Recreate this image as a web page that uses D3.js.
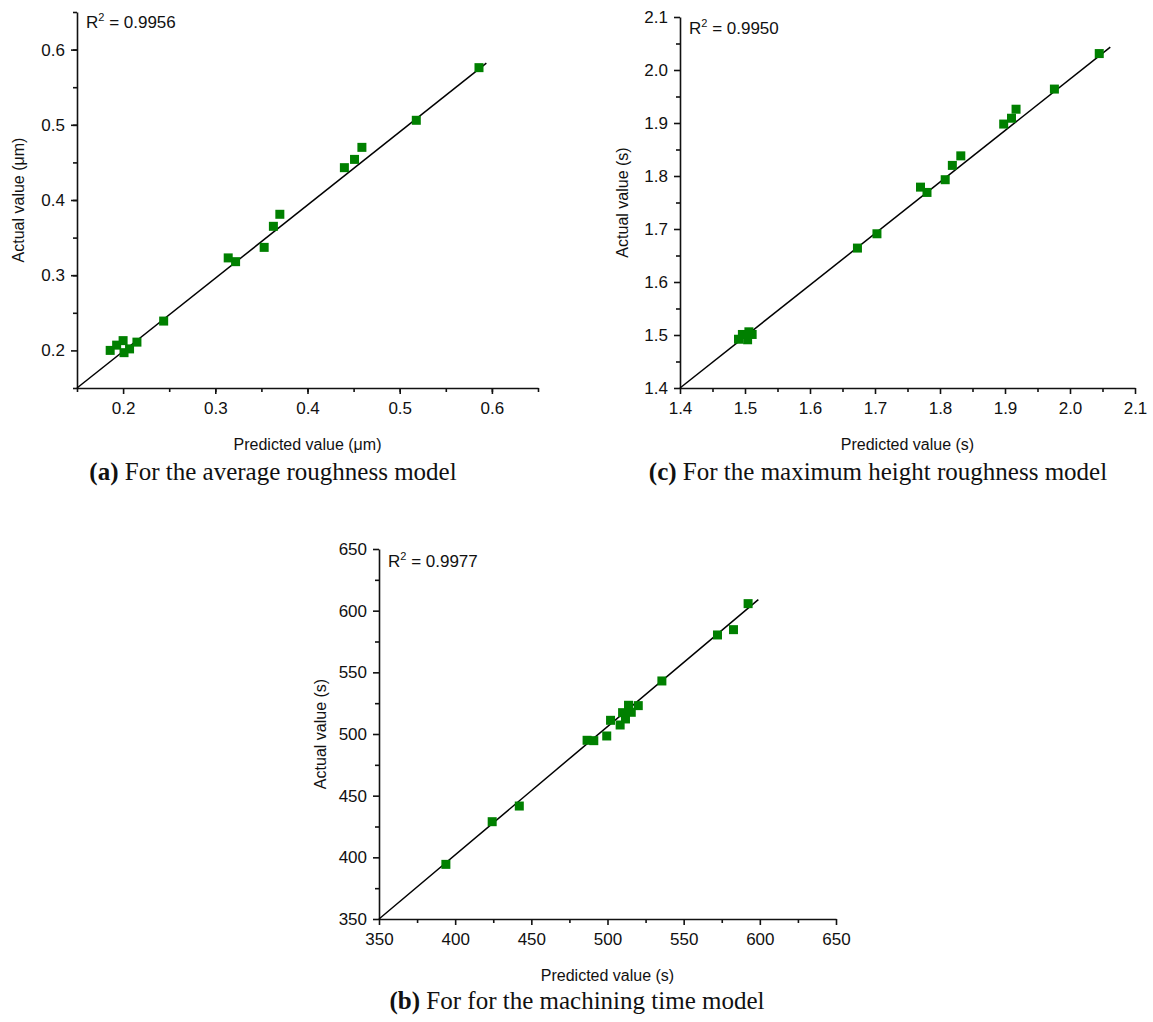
<!DOCTYPE html>
<html>
<head>
<meta charset="utf-8">
<script src="https://cdn.jsdelivr.net/npm/d3@7"></script>
<style>
  body { margin: 0; background: #fff; }
  .tick text { font-family: "Liberation Sans", Arial, sans-serif; font-size: 17px; fill: #111; }
  .axisText { font-family: "Liberation Sans", Arial, sans-serif; font-size: 16px; fill: #111; }
  .caption { font-family: "Liberation Serif", "Times New Roman", serif; font-size: 25px; fill: #111; }
</style>
</head>
<body>
<div id="chart"></div>
<script>
var svgWidth = 1153;
var svgHeight = 1022;

// (a) average roughness
var aPredicted = [0.586, 0.518, 0.459, 0.451, 0.440, 0.370, 0.363, 0.353, 0.314, 0.322, 0.244, 0.186, 0.193, 0.200, 0.201, 0.207, 0.215];
var aActual    = [0.576, 0.506, 0.470, 0.454, 0.443, 0.381, 0.365, 0.337, 0.323, 0.318, 0.239, 0.200, 0.207, 0.213, 0.197, 0.202, 0.211];
var aTicks = [0.2, 0.3, 0.4, 0.5, 0.6];
var aDomain = [0.15, 0.65];
var aFitLine = [[0.15, 0.15], [0.594, 0.582]];

// (c) maximum height roughness
var cPredicted = [2.045, 1.976, 1.917, 1.910, 1.898, 1.832, 1.819, 1.808, 1.770, 1.780, 1.703, 1.673, 1.490, 1.496, 1.504, 1.506, 1.511];
var cActual    = [2.031, 1.964, 1.926, 1.909, 1.898, 1.838, 1.820, 1.793, 1.779, 1.769, 1.691, 1.664, 1.492, 1.501, 1.491, 1.506, 1.501];
var cTicks = [1.4, 1.5, 1.6, 1.7, 1.8, 1.9, 2.0, 2.1];
var cDomain = [1.4, 2.1];
var cFitLine = [[1.4, 1.4], [2.062, 2.043]];

// (b) machining time
var bPredicted = [592.3, 582.7, 572.2, 535.7, 520.2, 513.8, 515.6, 509.9, 511.8, 508.3, 502.0, 499.5, 491.0, 486.6, 442.1, 424.3, 393.9];
var bActual    = [605.7, 584.6, 580.3, 543.0, 523.0, 523.3, 517.6, 517.3, 512.2, 507.3, 511.1, 498.4, 494.6, 494.9, 441.6, 428.9, 394.3];
var bTicks = [350, 400, 450, 500, 550, 600, 650];
var bDomain = [350, 650];
var bFitLine = [[350, 350], [599, 609]];

var svg = d3.select("#chart")
    .append("svg")
    .attr("width", svgWidth)
    .attr("height", svgHeight);

function drawPanel(p) {
    var x = d3.scaleLinear().domain(p.domain).range(p.xRange);
    var y = d3.scaleLinear().domain(p.domain).range(p.yRange);
    var step = p.ticks[1] - p.ticks[0];
    var minor = d3.range(p.domain[0], p.domain[1] + step / 4, step / 2)
        .filter(v => Math.abs(((v - p.ticks[0]) / step) % 1) > 0.25);

    var g = svg.append("g");

    // minor ticks
    g.append("g")
        .attr("transform", `translate(0, ${p.yRange[0]})`)
        .call(d3.axisBottom(x).tickValues(minor).tickSize(4).tickFormat(""))
        .call(s => s.select(".domain").remove());
    g.append("g")
        .attr("transform", `translate(${p.xRange[0]}, 0)`)
        .call(d3.axisLeft(y).tickValues(minor).tickSize(4).tickFormat(""))
        .call(s => s.select(".domain").remove());

    var fmt = p.format;
    g.append("g")
        .attr("transform", `translate(0, ${p.yRange[0]})`)
        .call(d3.axisBottom(x).tickValues(p.ticks).tickSize(6).tickSizeOuter(0).tickPadding(8).tickFormat(fmt));
    g.append("g")
        .attr("transform", `translate(${p.xRange[0]}, 0)`)
        .call(d3.axisLeft(y).tickValues(p.ticks).tickSize(6).tickSizeOuter(0).tickPadding(6).tickFormat(fmt));

    g.selectAll(".domain, .tick line").attr("stroke", "#111").attr("stroke-width", 1.6);

    // fitted line
    g.append("line")
        .attr("x1", x(p.line[0][0])).attr("y1", y(p.line[0][1]))
        .attr("x2", x(p.line[1][0])).attr("y2", y(p.line[1][1]))
        .attr("stroke", "#000")
        .attr("stroke-width", 1.5);

    var pts = p.pred.map((v, i) => ({ px: v, ay: p.act[i] }));
    var s = 9;
    g.selectAll("rect.pt")
        .data(pts)
        .enter()
        .append("rect")
        .attr("class", "pt")
        .attr("x", d => x(d.px) - s / 2)
        .attr("y", d => y(d.ay) - s / 2)
        .attr("width", s)
        .attr("height", s)
        .attr("fill", "#008000");

    // R^2 label
    var r = g.append("text")
        .attr("class", "axisText")
        .attr("x", p.xRange[0] + 9)
        .attr("y", p.r2y)
        .style("font-size", "17px");
    r.append("tspan").text("R");
    r.append("tspan").attr("dy", -7).style("font-size", "11px").text("2");
    r.append("tspan").attr("dy", 7).text(" = " + p.r2);

    // axis titles
    g.append("text")
        .attr("class", "axisText")
        .attr("text-anchor", "middle")
        .attr("x", (p.xRange[0] + p.xRange[1]) / 2)
        .attr("y", p.yRange[0] + 62)
        .text(p.xTitle);
    g.append("text")
        .attr("class", "axisText")
        .attr("text-anchor", "middle")
        .attr("transform", `translate(${p.yTitleX}, ${(p.yRange[0] + p.yRange[1]) / 2}) rotate(-90)`)
        .text(p.yTitle);

    // caption
    var c = g.append("text")
        .attr("class", "caption")
        .attr("text-anchor", "middle")
        .attr("x", p.capX)
        .attr("y", p.capY);
    c.append("tspan").style("font-weight", "bold").text(p.capTag);
    c.append("tspan").text(" " + p.capText);
}

drawPanel({
    pred: aPredicted, act: aActual, ticks: aTicks, domain: aDomain, line: aFitLine,
    format: d3.format(".1f"),
    xRange: [77, 538], yRange: [388, 12],
    r2: "0.9956", r2y: 28,
    xTitle: "Predicted value (\u03bcm)", yTitle: "Actual value (\u03bcm)", yTitleX: 24,
    capTag: "(a)", capText: "For the average roughness model", capX: 273, capY: 480
});

drawPanel({
    pred: cPredicted, act: cActual, ticks: cTicks, domain: cDomain, line: cFitLine,
    format: d3.format(".1f"),
    xRange: [680, 1135], yRange: [388, 17],
    r2: "0.9950", r2y: 34,
    xTitle: "Predicted value (s)", yTitle: "Actual value (s)", yTitleX: 628,
    capTag: "(c)", capText: "For the maximum height roughness model", capX: 878, capY: 480
});

drawPanel({
    pred: bPredicted, act: bActual, ticks: bTicks, domain: bDomain, line: bFitLine,
    format: d3.format("d"),
    xRange: [379, 836], yRange: [919, 549],
    r2: "0.9977", r2y: 567,
    xTitle: "Predicted value (s)", yTitle: "Actual value (s)", yTitleX: 326,
    capTag: "(b)", capText: "For for the machining time model", capX: 577, capY: 1009
});
</script>
</body>
</html>
